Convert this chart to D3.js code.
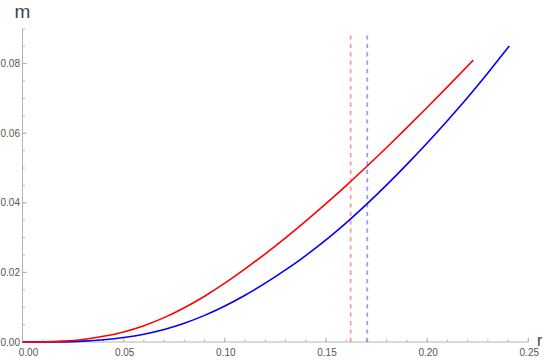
<!DOCTYPE html>
<html>
<head>
<meta charset="utf-8">
<script src="https://cdn.jsdelivr.net/npm/d3@7"></script>
<style>
  html, body { margin: 0; padding: 0; background: #fff; }
  svg { display: block; }
  text { font-family: "Liberation Sans", Arial, sans-serif; }
</style>
</head>
<body>
<svg id="chart" width="545" height="360"></svg>
<script>
// ---- data ----
const redR  = [0, 0.01, 0.02, 0.03, 0.04, 0.05, 0.06, 0.07, 0.08, 0.09, 0.10, 0.11, 0.12, 0.13, 0.14, 0.15, 0.16, 0.17, 0.18, 0.19, 0.20, 0.21, 0.22, 0.2228];
const redM  = [0, 0.00004, 0.00024, 0.00074, 0.00164, 0.0029, 0.0047, 0.0070, 0.00985, 0.01315, 0.0169, 0.0210, 0.02535, 0.02995, 0.03475, 0.03975, 0.04495, 0.05035, 0.0559, 0.0616, 0.0674, 0.0733, 0.0793, 0.0810];
const blueR = [0, 0.01, 0.02, 0.03, 0.04, 0.05, 0.06, 0.07, 0.08, 0.09, 0.10, 0.11, 0.12, 0.13, 0.14, 0.15, 0.16, 0.17, 0.18, 0.19, 0.20, 0.21, 0.22, 0.23, 0.24, 0.2406];
const blueM = [0, 0.00001, 0.00005, 0.00025, 0.00065, 0.0013, 0.00225, 0.0036, 0.0054, 0.00765, 0.01035, 0.01345, 0.0169, 0.0207, 0.02485, 0.02935, 0.03425, 0.03955, 0.04515, 0.05105, 0.0572, 0.0636, 0.07025, 0.0773, 0.0846, 0.08503];
const redDashR = 0.1622;
const blueDashR = 0.1704;
const dashTopM = 0.0888;
const xTicks = [0, 0.05, 0.10, 0.15, 0.20, 0.25];
const yTicks = [0, 0.02, 0.04, 0.06, 0.08];
const xMinor = d3.range(0, 0.2501, 0.01);
const yMinor = d3.range(0, 0.0901, 0.005);
const xLabel = "r";
const yLabel = "m";

// ---- layout ----
const svg = d3.select("#chart");
const x = d3.scaleLinear().domain([0, 0.25]).range([22.5, 528.3]);
const y = d3.scaleLinear().domain([0, 0.09]).range([342, 28.8]);
const axisColor = "#b4b4b4";
const labelColor = "#555";

// axes lines
svg.append("line").attr("x1", x(0)).attr("x2", x(0.25)).attr("y1", y(0)).attr("y2", y(0))
  .attr("stroke", axisColor).attr("stroke-width", 1);
svg.append("line").attr("x1", x(0)).attr("x2", x(0)).attr("y1", y(0)).attr("y2", y(0.09))
  .attr("stroke", axisColor).attr("stroke-width", 1);

// minor ticks
svg.append("g").selectAll("line").data(xMinor).join("line")
  .attr("x1", d => x(d)).attr("x2", d => x(d))
  .attr("y1", y(0)).attr("y2", y(0) - 2.5)
  .attr("stroke", axisColor).attr("stroke-width", 1);
svg.append("g").selectAll("line").data(yMinor).join("line")
  .attr("x1", x(0)).attr("x2", x(0) + 2.5)
  .attr("y1", d => y(d)).attr("y2", d => y(d))
  .attr("stroke", axisColor).attr("stroke-width", 1);
// major ticks
svg.append("g").selectAll("line").data(xTicks).join("line")
  .attr("x1", d => x(d)).attr("x2", d => x(d))
  .attr("y1", y(0)).attr("y2", y(0) - 4.5)
  .attr("stroke", axisColor).attr("stroke-width", 1);
svg.append("g").selectAll("line").data(yTicks).join("line")
  .attr("x1", x(0)).attr("x2", x(0) + 4.5)
  .attr("y1", d => y(d)).attr("y2", d => y(d))
  .attr("stroke", axisColor).attr("stroke-width", 1);

// tick labels
svg.append("g").selectAll("text").data(xTicks).join("text")
  .attr("x", (d, i) => x(d) + (i === 0 ? 6 : 1))
  .attr("y", 355.5)
  .attr("text-anchor", "middle")
  .attr("font-size", 10)
  .attr("fill", labelColor)
  .text(d => d3.format(".2f")(d));
svg.append("g").selectAll("text").data(yTicks).join("text")
  .attr("x", 20)
  .attr("y", d => y(d) + 3.5)
  .attr("text-anchor", "end")
  .attr("font-size", 10)
  .attr("fill", labelColor)
  .text(d => d3.format(".2f")(d));

// axis labels
svg.append("text").attr("x", x(0)).attr("y", 17.5).attr("text-anchor", "middle")
  .attr("font-size", 19).attr("fill", "#444").text(yLabel);
svg.append("text").attr("x", 537).attr("y", 346).attr("text-anchor", "start")
  .attr("font-size", 16).attr("fill", "#444").text(xLabel);

// dashed verticals
const dashData = [{r: redDashR, c: "#ff0000"}, {r: blueDashR, c: "#0000ff"}];
svg.append("g").selectAll("line").data(dashData).join("line")
  .attr("x1", d => x(d.r)).attr("x2", d => x(d.r))
  .attr("y1", y(0)).attr("y2", y(dashTopM))
  .attr("stroke", d => d.c).attr("stroke-opacity", 0.4)
  .attr("stroke-width", 1.8).attr("stroke-dasharray", "4.2,4.2");

// curves
const line = d3.line().x(d => x(d[0])).y(d => y(d[1])).curve(d3.curveMonotoneX);
svg.append("path").datum(blueR.map((r, i) => [r, blueM[i]]))
  .attr("d", line).attr("fill", "none").attr("stroke", "#0000ff").attr("stroke-width", 1.6);
svg.append("path").datum(redR.map((r, i) => [r, redM[i]]))
  .attr("d", line).attr("fill", "none").attr("stroke", "#ff0000").attr("stroke-width", 1.6);
</script>
</body>
</html>
